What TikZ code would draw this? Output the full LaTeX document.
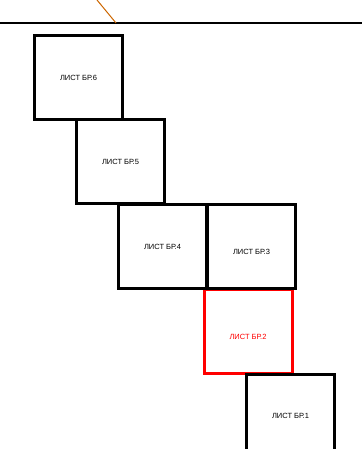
\documentclass[tikz,border=0pt]{standalone}
\usepackage{fontspec}
\setmainfont{Liberation Sans}
\usepackage{xcolor}
\usepackage{tikz}
\usetikzlibrary{positioning}
\definecolor{leader}{RGB}{204,102,0}

\begin{document}
\begin{tikzpicture}[x=1pt, y=-1pt,
    sheet/.style={rectangle, draw=black, line width=3pt, minimum width=88pt, minimum height=84pt, inner sep=0pt, font=\fontsize{7.5}{9}\selectfont},
    sheetsel/.style={sheet, draw=red, text=red},
    rule/.style={line width=1.3pt},
    pointer/.style={draw=leader, line width=1pt}]

\clip (0,0) rectangle (362,449);

% Top edge and leader
\coordinate (ruleL) at (0,23);
\coordinate (ruleR) at (362,23);
\coordinate (tip) at (116,23);
\coordinate (tail) at (97,0);
\draw[rule] (ruleL) -- (ruleR);
\draw[pointer] (tail) -- (tip);

% Sheets, stepping down to the right
\node[sheetsel] (br2) at (248,331.5) {\raisebox{-7.5pt}[0pt][0pt]{ЛИСТ БР.2}};
\node[sheet] (br6) at (78.5,77.5) {ЛИСТ БР.6};
\node[sheet] (br5) at (120.5,161.5) {ЛИСТ БР.5};
\node[sheet] (br4) at (162.5,246.5) {ЛИСТ БР.4};
\node[sheet, minimum width=88.5pt] (br3) at (251.5,246.5) {\raisebox{-7.5pt}[0pt][0pt]{ЛИСТ БР.3}};
\node[sheet] (br1) at (290.5,416) {ЛИСТ БР.1};

\end{tikzpicture}
\end{document}
